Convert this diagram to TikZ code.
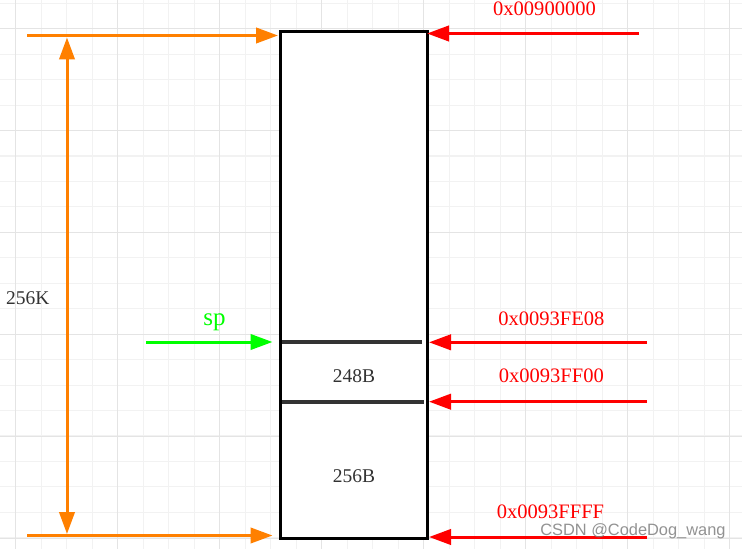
\documentclass[tikz,border=0pt]{standalone}
\usepackage{fontspec}
\setmainfont{Liberation Serif}
\newfontfamily\wmfont{Liberation Sans}
\usetikzlibrary{arrows.meta}
\definecolor{orangeC}{HTML}{FF8000}
\definecolor{redC}{HTML}{FF0000}
\definecolor{greenC}{HTML}{00FF00}
\definecolor{textC}{HTML}{333333}
\definecolor{gridminorC}{HTML}{F2F2F2}
\definecolor{gridmajorC}{HTML}{E4E4E4}
\begin{document}
\begin{tikzpicture}[x=0.75pt,y=-0.75pt,
  gridminor/.style={draw=gridminorC, line width=0.8pt},
  gridmajor/.style={draw=gridmajorC, line width=0.8pt},
  tip/.style={-{Triangle[length=16.5pt,width=11.5pt]}},
  arr/.style={line width=2.25pt, tip},
  orangearr/.style={arr, draw=orangeC, fill=orangeC},
  redarr/.style={arr, draw=redC, fill=redC},
  greenarr/.style={arr, draw=greenC, fill=greenC},
  addr/.style={anchor=base, text=redC, font=\fontsize{15.4}{18}\selectfont, inner sep=0pt},
  lbl/.style={anchor=base, text=textC, font=\fontsize{14.6}{17}\selectfont, inner sep=0pt},
  mem/.style={draw=black, fill=white, line width=2.25pt, minimum width=110.25pt, minimum height=379.5pt, inner sep=0pt},
  divider/.style={draw=textC, line width=2.6pt}
]
\useasboundingbox (0,0) rectangle (742,549);
\fill[white] (0,0) rectangle (742,549);
% grid
\foreach \i in {0,...,29} {
  \draw[gridminor] ({15.7+25.5*(\i-1)},0) -- ({15.7+25.5*(\i-1)},549);
}
\foreach \i in {0,...,21} {
  \draw[gridminor] (0,{3.3+25.45*\i}) -- (742,{3.3+25.45*\i});
}
\foreach \i in {0,...,7} {
  \draw[gridmajor] ({15.7+102*\i},0) -- ({15.7+102*\i},549);
}
\foreach \i in {0,...,5} {
  \draw[gridmajor] (0,{28.3+102*\i}) -- (742,{28.3+102*\i});
}
% memory box
\node[mem] (box) at (353.5,285) {};
\coordinate (d1a) at (282,342);
\coordinate (d1b) at (422,342);
\coordinate (d2a) at (282,402);
\coordinate (d2b) at (424,402);
\draw[divider] (d1a) -- (d1b);
\draw[divider] (d2a) -- (d2b);
\node[lbl] (b248) at (354,382.7) {248B};
\node[lbl] (b256) at (354,482.7) {256B};
% orange arrows
\coordinate (otopS) at (27,35.5);
\coordinate (otopE) at (278,35.5);
\coordinate (obotS) at (27,535.5);
\coordinate (obotE) at (272.5,535.5);
\coordinate (ovA) at (67,37.5);
\coordinate (ovB) at (67,534);
\draw[orangearr] (otopS) -- (otopE);
\draw[orangearr] (obotS) -- (obotE);
\draw[line width=2.25pt, draw=orangeC, fill=orangeC, {Triangle[length=16.5pt,width=11.5pt]}-{Triangle[length=16.5pt,width=11.5pt]}] (ovA) -- (ovB);
\node[lbl] (k256) at (27.7,304) {256K};
% green sp arrow
\coordinate (spS) at (146,342);
\coordinate (spE) at (272.5,342);
\draw[greenarr] (spS) -- (spE);
\node[anchor=base, text=greenC, font=\fontsize{18.75}{22}\selectfont, inner sep=0pt] (sp) at (214.5,325) {sp};
% red address arrows
\coordinate (r1S) at (639,33.5);
\coordinate (r1E) at (427,33.5);
\coordinate (r2S) at (647,342.3);
\coordinate (r2E) at (429,342.3);
\coordinate (r3S) at (647,401.7);
\coordinate (r3E) at (429,401.7);
\coordinate (r4S) at (647,537);
\coordinate (r4E) at (429,537);
\draw[redarr] (r1S) -- (r1E);
\draw[redarr] (r2S) -- (r2E);
\draw[redarr] (r3S) -- (r3E);
\draw[redarr] (r4S) -- (r4E);
\node[addr] (a1) at (544.5,16) {0x00900000};
\node[addr] (a2) at (551.3,325) {0x0093FE08};
\node[addr] (a3) at (551.3,382.7) {0x0093FF00};
\node[addr] (a4) at (550.5,518.3) {0x0093FFFF};
% watermark
\node[anchor=base west, inner sep=0pt, text=black!50, opacity=0.85, font=\wmfont\fontsize{12.3}{14}\selectfont] (wm) at (540,535) {CSDN @CodeDog\_wang};
\end{tikzpicture}
\end{document}
